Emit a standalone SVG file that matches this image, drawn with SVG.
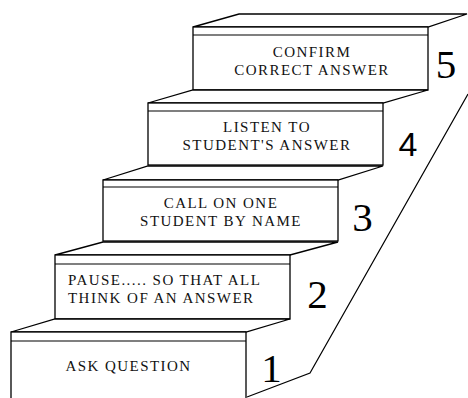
<svg xmlns="http://www.w3.org/2000/svg" width="468" height="398" viewBox="0 0 468 398">
<style>
.ln{fill:#fff;stroke:#000;stroke-width:1.3;stroke-linejoin:miter}
.in{fill:none;stroke:#000;stroke-width:1.2}
.t{font-family:'Liberation Serif',serif;font-size:15px;letter-spacing:1.45px;fill:#111}
.n{font-family:'Liberation Serif',serif;font-size:41px;fill:#000;text-anchor:middle}
.ns{font-family:'Liberation Sans',sans-serif;font-size:34px;fill:#000;text-anchor:middle}
</style>
<rect width="468" height="398" fill="#fff"/>
<g id="connectors">
<polyline class="in" points="247,397 310,373 468,94"/>
</g>
<g id="step5">
<polygon class="ln" points="193,27 239,14 467,14 428,27"/>
<rect class="ln" x="193" y="27" width="235" height="63"/>
<line class="in" x1="193" y1="35" x2="428" y2="35"/>
<text class="t" x="312" y="57" text-anchor="middle" font-family="Liberation Serif">CONFIRM</text>
<text class="t" x="312" y="75" text-anchor="middle" font-family="Liberation Serif">CORRECT ANSWER</text>
<text class="n" x="446" y="78" font-family="Liberation Serif">5</text>
</g>
<g id="step4">
<polygon class="ln" points="148,103 193,90 428,90 383,103"/>
<rect class="ln" x="148" y="103" width="235" height="62"/>
<line class="in" x1="148" y1="111" x2="383" y2="111"/>
<text class="t" x="267" y="132" text-anchor="middle" font-family="Liberation Serif">LISTEN TO</text>
<text class="t" x="267" y="150" text-anchor="middle" font-family="Liberation Serif">STUDENT'S ANSWER</text>
<text class="ns" x="408" y="156" font-family="Liberation Sans">4</text>
</g>
<g id="step3">
<polygon class="ln" points="103,180 148,166 383,166 338,180"/>
<rect class="ln" x="103" y="180" width="235" height="61"/>
<line class="in" x1="103" y1="187" x2="338" y2="187"/>
<text class="t" x="221" y="208" text-anchor="middle" font-family="Liberation Serif">CALL ON ONE</text>
<text class="t" x="221" y="226" text-anchor="middle" font-family="Liberation Serif">STUDENT BY NAME</text>
<text class="n" x="362.5" y="231" font-family="Liberation Serif">3</text>
</g>
<g id="step2">
<polygon class="ln" points="55,255 103,242 338,242 290,255"/>
<rect class="ln" x="55" y="255" width="235" height="64"/>
<line class="in" x1="55" y1="264" x2="290" y2="264"/>
<text class="t" x="68" y="285" font-family="Liberation Serif">PAUSE..... SO THAT ALL</text>
<text class="t" x="68" y="303" font-family="Liberation Serif">THINK OF AN ANSWER</text>
<text class="n" x="317.5" y="308" font-family="Liberation Serif">2</text>
</g>
<g id="step1">
<polygon class="ln" points="11,332 55,319 290,319 246,332"/>
<rect class="ln" x="11" y="332" width="235" height="70"/>
<line class="in" x1="11" y1="341" x2="246" y2="341"/>
<text class="t" x="128.5" y="371" text-anchor="middle" font-family="Liberation Serif">ASK QUESTION</text>
<text class="n" x="271.5" y="382" font-family="Liberation Serif">1</text>
</g>
</svg>
